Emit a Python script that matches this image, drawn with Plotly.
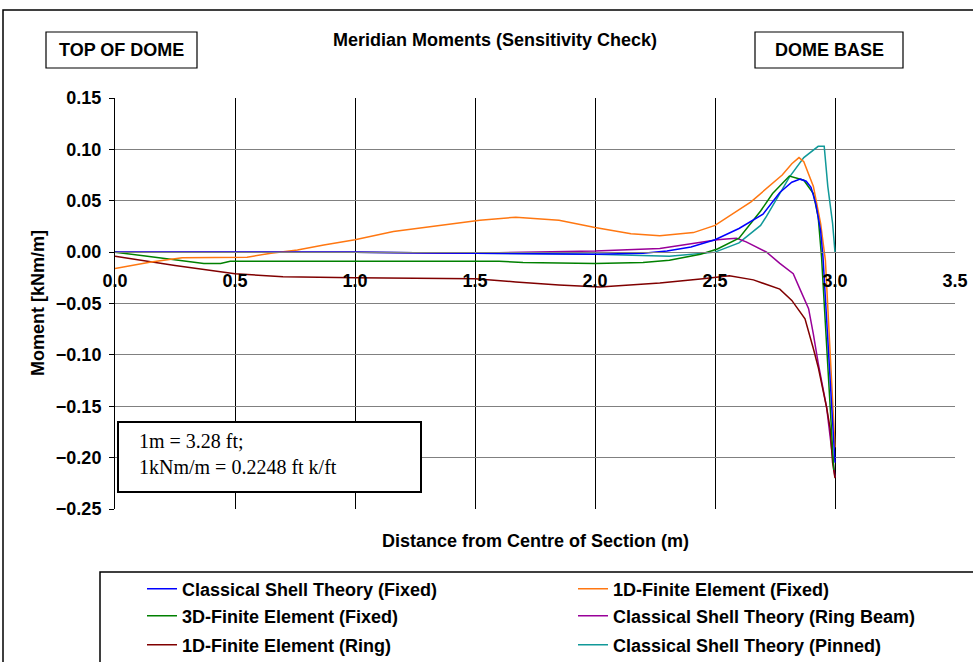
import plotly.graph_objects as go

# ---- data ----
cst_fixed_x = [0, 0.5, 1.0, 1.5, 1.8, 2.0, 2.2, 2.3, 2.4, 2.5, 2.6, 2.7, 2.77, 2.82, 2.855, 2.88, 2.9, 2.92, 2.94, 2.95, 3.0]
cst_fixed_y = [0, 0, 0, -0.001, -0.002, -0.002, -0.001, 0.001, 0.005, 0.012, 0.023, 0.037, 0.058, 0.068, 0.071, 0.069, 0.063, 0.047, 0.021, -0.005, -0.205]

fe1d_fixed_x = [0, 0.15, 0.28, 0.4, 0.55, 0.65, 0.76, 0.87, 1.0, 1.16, 1.33, 1.52, 1.67, 1.85, 2.0, 2.15, 2.27, 2.41, 2.5, 2.65, 2.78, 2.82, 2.85, 2.87, 2.91, 2.94, 2.96, 3.0]
fe1d_fixed_y = [-0.016, -0.0095, -0.0055, -0.0055, -0.005, -0.001, 0.002, 0.007, 0.012, 0.020, 0.025, 0.031, 0.034, 0.031, 0.024, 0.018, 0.016, 0.019, 0.026, 0.049, 0.075, 0.086, 0.092, 0.088, 0.064, 0.028, -0.008, -0.19]

fe3d_fixed_x = [0, 0.19, 0.37, 0.44, 0.48, 1.0, 1.6, 1.7, 2.0, 2.2, 2.31, 2.44, 2.51, 2.6, 2.69, 2.74, 2.81, 2.87, 2.91, 2.93, 2.944, 2.995]
fe3d_fixed_y = [0, -0.0055, -0.011, -0.011, -0.009, -0.009, -0.009, -0.010, -0.011, -0.010, -0.008, -0.002, 0.003, 0.0136, 0.040, 0.057, 0.074, 0.070, 0.057, 0.034, -0.005, -0.212]

cst_ring_x = [0, 1.0, 1.5, 2.0, 2.27, 2.44, 2.51, 2.56, 2.59, 2.63, 2.715, 2.77, 2.826, 2.854, 2.89, 2.91, 2.93, 2.965, 2.985, 3.0]
cst_ring_y = [0, 0, -0.001, 0.001, 0.0035, 0.0095, 0.012, 0.013, 0.0135, 0.010, 0.000, -0.011, -0.021, -0.036, -0.055, -0.080, -0.108, -0.151, -0.187, -0.219]

fe1d_ring_x = [0, 0.25, 0.5, 0.7, 1.0, 1.5, 1.67, 1.85, 2.02, 2.27, 2.45, 2.56, 2.66, 2.73, 2.77, 2.82, 2.875, 2.91, 2.93, 2.965, 2.98, 2.99, 3.0]
fe1d_ring_y = [-0.004, -0.013, -0.021, -0.024, -0.025, -0.026, -0.029, -0.032, -0.034, -0.030, -0.026, -0.023, -0.027, -0.033, -0.036, -0.047, -0.065, -0.094, -0.112, -0.151, -0.172, -0.205, -0.22]

cst_pinned_x = [0, 1.0, 1.5, 2.0, 2.31, 2.5, 2.6, 2.69, 2.715, 2.81, 2.87, 2.93, 2.955, 2.97, 2.99, 3.0]
cst_pinned_y = [0, 0, -0.001, -0.002, -0.004, 0.000, 0.009, 0.026, 0.035, 0.073, 0.092, 0.103, 0.103, 0.064, 0.028, 0.0]

# (name, x, y, colour, legend slot index) ; slot index gives the legend grid position
series = [
    ("Classical Shell Theory (Fixed)", cst_fixed_x, cst_fixed_y, "#0000FF", 0),
    ("1D-Finite Element (Fixed)", fe1d_fixed_x, fe1d_fixed_y, "#FF7711", 1),
    ("3D-Finite Element (Fixed)", fe3d_fixed_x, fe3d_fixed_y, "#008000", 2),
    ("Classical Shell Theory (Ring Beam)", cst_ring_x, cst_ring_y, "#990099", 3),
    ("1D-Finite Element (Ring)", fe1d_ring_x, fe1d_ring_y, "#800000", 4),
    ("Classical Shell Theory (Pinned)", cst_pinned_x, cst_pinned_y, "#119999", 5),
]
draw_order = [5, 3, 4, 2, 1, 0]  # blue drawn last (on top), as in the reference

x_ticks = [0.0, 0.5, 1.0, 1.5, 2.0, 2.5, 3.0, 3.5]
y_ticks = [0.15, 0.10, 0.05, 0.00, -0.05, -0.10, -0.15, -0.20, -0.25]

# ---- layout helpers (pixel -> paper) ----
L, R, T, B = 115, 18, 98, 153
W, H = 973, 662
PW, PH = W - L - R, H - T - B


def px(xp):
    return (xp - L) / PW


def py(yp):
    return (H - B - yp) / PH


SANS = "Liberation Sans"
FS = 18
legend_cols = [142, 573]
legend_rows = [589, 616, 645]

fig = go.Figure()
layout_legends = {}
for idx in draw_order:
    name, xs, ys, col, slot = series[idx]
    key = "legend" if slot == 0 else f"legend{slot + 1}"
    fig.add_trace(go.Scatter(x=xs, y=ys, mode="lines", name=name,
                             line=dict(color=col, width=1.5), legend=key))
    layout_legends[key] = dict(
        x=px(legend_cols[slot % 2]), y=py(legend_rows[slot // 2]),
        xanchor="left", yanchor="middle", orientation="h",
        bgcolor="rgba(0,0,0,0)", borderwidth=0,
        font=dict(family=SANS, size=FS, color="black", weight="bold"))

fig.update_layout(
    width=W, height=H,
    margin=dict(l=L, r=R, t=T, b=B, pad=0, autoexpand=False),
    paper_bgcolor="white", plot_bgcolor="white",
    showlegend=True,
    xaxis=dict(range=[0, 3.5], tickvals=x_ticks, tickformat=".1f",
               showgrid=True, gridcolor="black", gridwidth=1,
               showline=True, linecolor="#808080", linewidth=1,
               zeroline=False, ticks="", anchor="free", position=0.625,
               ticklabelstandoff=12,
               tickfont=dict(family=SANS, size=FS, color="black", weight="bold")),
    yaxis=dict(range=[-0.25, 0.15], tickvals=y_ticks, tickformat=".2f",
               showgrid=True, gridcolor="#808080", gridwidth=1,
               showline=True, linecolor="black", linewidth=1,
               zeroline=False, ticks="outside", ticklen=5, tickcolor="black",
               ticklabelstandoff=4,
               tickfont=dict(family=SANS, size=FS, color="black", weight="bold")),
    **layout_legends,
)

shapes = [
    # outer chart border
    dict(type="rect", xref="paper", yref="paper", x0=px(3), x1=px(990), y0=py(700), y1=py(10),
         line=dict(color="black", width=1.5), fillcolor="rgba(0,0,0,0)", layer="below"),
    # legend frame
    dict(type="rect", xref="paper", yref="paper", x0=px(100), x1=px(990), y0=py(700), y1=py(572),
         line=dict(color="black", width=1.5), fillcolor="white", layer="below"),
    # label boxes
    dict(type="rect", xref="paper", yref="paper", x0=px(46), x1=px(197), y0=py(68), y1=py(32),
         line=dict(color="black", width=1.2), fillcolor="white", layer="below"),
    dict(type="rect", xref="paper", yref="paper", x0=px(755), x1=px(903), y0=py(68), y1=py(32),
         line=dict(color="black", width=1.2), fillcolor="white", layer="below"),
    # note box
    dict(type="rect", xref="paper", yref="paper", x0=px(118), x1=px(421), y0=py(492), y1=py(422),
         line=dict(color="black", width=2), fillcolor="white", layer="above"),
]
fig.update_layout(shapes=shapes)

bold = dict(family=SANS, size=FS, color="black", weight="bold")
annotations = [
    dict(text="Meridian Moments (Sensitivity Check)", x=px(495), y=py(40), font=bold),
    dict(text="TOP OF DOME", x=px(121.5), y=py(50), font=bold),
    dict(text="DOME BASE", x=px(829), y=py(50), font=bold),
    dict(text="Distance from Centre of Section (m)", x=px(535), y=py(541), font=bold),
    dict(text="Moment [kNm/m]", x=px(38), y=py(303), font=bold, textangle=-90),
    dict(text="1m = 3.28 ft;<br>1kNm/m = 0.2248 ft k/ft", x=px(137), y=py(454),
         xanchor="left", align="left",
         font=dict(family="Liberation Serif", size=20, color="black")),
]
for a in annotations:
    a.setdefault("xanchor", "center")
    a.update(xref="paper", yref="paper", yanchor="middle", showarrow=False)
fig.update_layout(annotations=annotations)

fig.write_html("out.html", config={"displayModeBar": False},
               post_script="document.body.style.margin='0';document.body.style.padding='0';")
